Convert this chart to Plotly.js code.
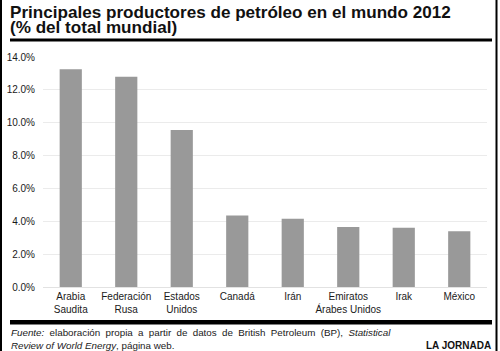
<!DOCTYPE html>
<html>
<head>
<meta charset="utf-8">
<script src="https://cdn.plot.ly/plotly-3.0.1.min.js"></script>
<style>
html,body{margin:0;padding:0;background:#fff;}
#chart{width:500px;height:351px;}
#chart g.annotation[data-index="2"] text{word-spacing:2.6px;}
</style>
</head>
<body>
<div id="chart"></div>
<script>
// Data
const categories = ["Arabia<br>Saudita", "Federación<br>Rusa", "Estados<br>Unidos", "Canadá", "Irán", "Emiratos<br>Árabes Unidos", "Irak", "México"];
const shares = [13.25, 12.8, 9.55, 4.35, 4.15, 3.65, 3.6, 3.4];
const titleLines = ["Principales productores de petróleo en el mundo 2012", "(% del total mundial)"];
const footerLines = ["<i>Fuente:</i> elaboración propia a partir de datos de British Petroleum (BP), <i>Statistical</i>", "<i>Review of World Energy</i>, página web."];
const brand = "LA JORNADA";

const W = 500, H = 351;
const M = {l: 43, r: 13, t: 57, b: 64};
const PW = W - M.l - M.r, PH = H - M.t - M.b;
const px = x => (x - M.l) / PW;
const py = y => (H - M.b - y) / PH;
const FONT = "Liberation Sans, Arial, Helvetica, sans-serif";

const trace = {
  type: "bar",
  x: categories,
  y: shares,
  marker: {color: "#999999", line: {width: 0}},
  hoverinfo: "skip"
};

const rect = (x0, y0, x1, y1) => ({
  type: "rect", xref: "paper", yref: "paper",
  x0: px(x0), x1: px(x1), y0: py(y0), y1: py(y1),
  fillcolor: "#000", line: {width: 0}, layer: "above"
});

const layout = {
  width: W, height: H,
  margin: M,
  paper_bgcolor: "#fff", plot_bgcolor: "#fff",
  bargap: 0.6,
  showlegend: false,
  font: {family: FONT, color: "#1a1a1a", size: 10},
  xaxis: {
    showgrid: false, zeroline: false, showline: false, ticks: "",
    ticklabelstandoff: 2,
    tickfont: {size: 10, color: "#1a1a1a"},
    fixedrange: true
  },
  yaxis: {
    range: [0, 14], dtick: 2, tick0: 0,
    tickformat: ".1f", ticksuffix: "%",
    showgrid: true, gridcolor: "#ebebeb", gridwidth: 1,
    zeroline: true, zerolinecolor: "#e2e2e2", zerolinewidth: 1,
    showline: false, ticks: "",
    ticklabelstandoff: 7,
    tickfont: {size: 10, color: "#1a1a1a"},
    fixedrange: true
  },
  shapes: [
    rect(10, 38.5, 492, 41.5),
    rect(10, 320, 492, 324.5),
    rect(0, 0, 2, 351),
    rect(495.5, 0, 497.5, 351)
  ],
  annotations: [
    {text: "<b>" + titleLines[0] + "</b>", xref: "paper", yref: "paper", x: px(9), y: py(12.2),
     xanchor: "left", yanchor: "middle", align: "left", showarrow: false, borderpad: 0, font: {family: FONT, size: 17.1, color: "#111"}},
    {text: "<b>" + titleLines[1] + "</b>", xref: "paper", yref: "paper", x: px(9), y: py(27.8),
     xanchor: "left", yanchor: "middle", align: "left", showarrow: false, borderpad: 0, font: {family: FONT, size: 17.1, color: "#111"}},
    {text: footerLines[0], xref: "paper", yref: "paper", x: px(9), y: py(332.5),
     xanchor: "left", yanchor: "middle", align: "left", showarrow: false, font: {family: FONT, size: 9.8, color: "#1a1a1a"}},
    {text: footerLines[1], xref: "paper", yref: "paper", x: px(9), y: py(345),
     xanchor: "left", yanchor: "middle", align: "left", showarrow: false, font: {family: FONT, size: 9.8, color: "#1a1a1a"}},
    {text: "<b>" + brand + "</b>", xref: "paper", yref: "paper", x: px(493), y: py(345),
     xanchor: "right", yanchor: "middle", showarrow: false, font: {family: FONT, size: 10, color: "#111"}}
  ]
};

Plotly.newPlot("chart", [trace], layout, {staticPlot: true, displayModeBar: false});
</script>
</body>
</html>
